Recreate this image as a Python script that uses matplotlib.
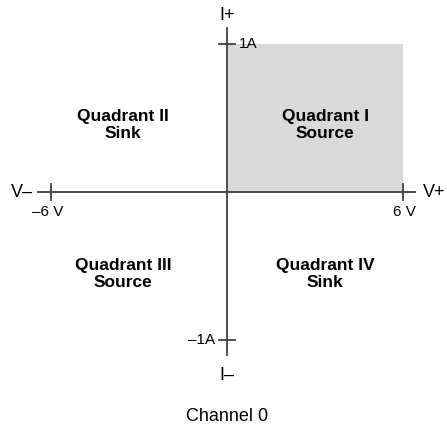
import matplotlib
matplotlib.use("Agg")
import matplotlib.pyplot as plt
from matplotlib.patches import Rectangle

plt.rcParams['font.family'] = ['Liberation Sans', 'DejaVu Sans']

# operating limits of channel 0
v_limits = [-6, 6]
i_limits = [-1, 1]
v_tick_labels = ['\u20136 V', '6 V']
i_tick_labels = ['\u20131A', '1A']

# quadrant labels: (V sign, I sign, text)
quadrants = [
    (1, 1, 'Quadrant I\nSource'),
    (-1, 1, 'Quadrant II\nSink'),
    (-1, -1, 'Quadrant III\nSource'),
    (1, -1, 'Quadrant IV\nSink'),
]

line_col = '#404040'
fill_col = '#d9d9d9'

fig = plt.figure(figsize=(4.47, 4.29), dpi=100)
ax = fig.add_axes([0, 0, 1, 1])
ax.set_xlim(-7.74, 7.50)
ax.set_ylim(-1.60, 1.297)
ax.axis('off')

vmin, vmax = v_limits
imin, imax = i_limits

# shaded source region (quadrant I)
ax.add_patch(Rectangle((0, 0), vmax, imax, facecolor=fill_col, edgecolor='none', zorder=0))

# axes lines
ax.plot([-6.43, 6.41], [0, 0], color=line_col, lw=1.3)
ax.plot([0, 0], [-1.10, 1.11], color=line_col, lw=1.3)

# crossing ticks
tv = 0.055
ti = 0.27
for v in v_limits:
    ax.plot([v, v], [-tv, tv], color=line_col, lw=1.3)
for i in i_limits:
    ax.plot([-ti, ti], [i, i], color=line_col, lw=1.3)

# tick labels
ax.text(-6.1, -0.135, v_tick_labels[0], ha='center', va='center', fontsize=11)
ax.text(6.05, -0.135, v_tick_labels[1], ha='center', va='center', fontsize=11)
ax.text(0.4, imax, i_tick_labels[1], ha='left', va='center', fontsize=11)
ax.text(-0.4, imin, i_tick_labels[0], ha='right', va='center', fontsize=11)

# axis end labels
ax.text(-7.0, 0, 'V\u2013', ha='center', va='center', fontsize=13)
ax.text(7.06, 0, 'V+', ha='center', va='center', fontsize=13)
ax.text(0, 1.19, 'I+', ha='center', va='center', fontsize=13)
ax.text(0, -1.24, 'I\u2013', ha='center', va='center', fontsize=13)

for sv, si, lab in quadrants:
    x = 3.35 if sv > 0 else -3.55
    y = 0.455 if si > 0 else -0.555
    ax.text(x, y, lab, ha='center', va='center', fontsize=12.5,
            fontweight='bold', linespacing=1.15)

ax.text(0, -1.515, 'Channel 0', ha='center', va='center', fontsize=13)

fig.savefig('out.png', dpi=100)
